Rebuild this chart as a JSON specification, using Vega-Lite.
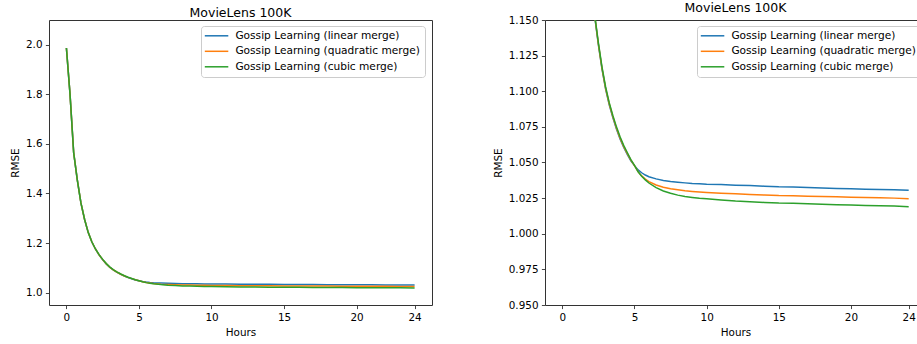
{
  "$schema": "https://vega.github.io/schema/vega-lite/v6.json",
  "padding": {"left": 9, "top": 1, "right": 0, "bottom": 0},
  "config": {
    "font": "DejaVu Sans",
    "view": {"stroke": "#333333", "strokeWidth": 1},
    "axis": {
      "domain": false, "grid": false, "tickColor": "#333333", "tickSize": 3.6, "tickWidth": 0.9,
      "labelFontSize": 10.4, "labelColor": "#000000", "labelPadding": 3.4, "labelFlush": false,
      "titleFontSize": 10.4, "titleFontWeight": "normal", "titleColor": "#000000", "titlePadding": 5
    },
    "title": {"fontSize": 12.5, "fontWeight": "normal", "color": "#000000", "offset": 1, "frame": "group", "anchor": "middle"},
    "legend": {
      "orient": "none", "legendX": 152, "legendY": 6, "title": null, "labelLimit": 300,
      "labelFontSize": 10.6, "labelColor": "#000000", "symbolType": "M-3,0H8.75", "symbolSize": 16,
      "symbolStrokeWidth": 1.5, "labelOffset": 19.3, "padding": 4.5, "rowPadding": 4.5,
      "fillColor": "rgba(255,255,255,0.8)", "strokeColor": "#cccccc", "cornerRadius": 3
    }
  },
  "data": {"values": [
    {"h": 0, "linear": 1.987, "quadratic": 1.987, "cubic": 1.987},
    {"h": 0.25, "linear": 1.80, "quadratic": 1.80, "cubic": 1.80},
    {"h": 0.5, "linear": 1.565, "quadratic": 1.565, "cubic": 1.565},
    {"h": 0.75, "linear": 1.455, "quadratic": 1.455, "cubic": 1.455},
    {"h": 1, "linear": 1.362, "quadratic": 1.362, "cubic": 1.362},
    {"h": 1.25, "linear": 1.296, "quadratic": 1.296, "cubic": 1.296},
    {"h": 1.5, "linear": 1.243, "quadratic": 1.243, "cubic": 1.243},
    {"h": 1.75, "linear": 1.205, "quadratic": 1.205, "cubic": 1.205},
    {"h": 2, "linear": 1.176, "quadratic": 1.176, "cubic": 1.176},
    {"h": 2.25, "linear": 1.152, "quadratic": 1.1525, "cubic": 1.153},
    {"h": 2.5, "linear": 1.1325, "quadratic": 1.133, "cubic": 1.134},
    {"h": 2.75, "linear": 1.1155, "quadratic": 1.116, "cubic": 1.117},
    {"h": 3, "linear": 1.1015, "quadratic": 1.102, "cubic": 1.103},
    {"h": 3.25, "linear": 1.0905, "quadratic": 1.0912, "cubic": 1.092},
    {"h": 3.5, "linear": 1.0815, "quadratic": 1.0822, "cubic": 1.083},
    {"h": 3.75, "linear": 1.0735, "quadratic": 1.0742, "cubic": 1.075},
    {"h": 4, "linear": 1.0665, "quadratic": 1.0672, "cubic": 1.068},
    {"h": 4.25, "linear": 1.0607, "quadratic": 1.0613, "cubic": 1.062},
    {"h": 4.5, "linear": 1.0557, "quadratic": 1.0563, "cubic": 1.057},
    {"h": 4.75, "linear": 1.0512, "quadratic": 1.0516, "cubic": 1.052},
    {"h": 5, "linear": 1.0478, "quadratic": 1.0478, "cubic": 1.048},
    {"h": 5.25, "linear": 1.0448, "quadratic": 1.0436, "cubic": 1.0435},
    {"h": 5.5, "linear": 1.0428, "quadratic": 1.0406, "cubic": 1.0403},
    {"h": 5.75, "linear": 1.0412, "quadratic": 1.0384, "cubic": 1.0378},
    {"h": 6, "linear": 1.0400, "quadratic": 1.0366, "cubic": 1.0356},
    {"h": 6.5, "linear": 1.0385, "quadratic": 1.0342, "cubic": 1.0324},
    {"h": 7, "linear": 1.0373, "quadratic": 1.0326, "cubic": 1.0300},
    {"h": 7.5, "linear": 1.0366, "quadratic": 1.0316, "cubic": 1.0284},
    {"h": 8, "linear": 1.0361, "quadratic": 1.0309, "cubic": 1.0271},
    {"h": 8.5, "linear": 1.0357, "quadratic": 1.0302, "cubic": 1.0262},
    {"h": 9, "linear": 1.0353, "quadratic": 1.0297, "cubic": 1.0255},
    {"h": 9.5, "linear": 1.0351, "quadratic": 1.0293, "cubic": 1.0249},
    {"h": 10, "linear": 1.0348, "quadratic": 1.0290, "cubic": 1.0245},
    {"h": 11, "linear": 1.0345, "quadratic": 1.0285, "cubic": 1.0236},
    {"h": 12, "linear": 1.0341, "quadratic": 1.0280, "cubic": 1.0229},
    {"h": 13, "linear": 1.0338, "quadratic": 1.0276, "cubic": 1.0225},
    {"h": 14, "linear": 1.0334, "quadratic": 1.0272, "cubic": 1.0220},
    {"h": 15, "linear": 1.0329, "quadratic": 1.0268, "cubic": 1.0215},
    {"h": 16, "linear": 1.0328, "quadratic": 1.0267, "cubic": 1.0214},
    {"h": 17, "linear": 1.0324, "quadratic": 1.0264, "cubic": 1.0211},
    {"h": 18, "linear": 1.0321, "quadratic": 1.0262, "cubic": 1.0207},
    {"h": 19, "linear": 1.0318, "quadratic": 1.0260, "cubic": 1.0204},
    {"h": 20, "linear": 1.0315, "quadratic": 1.0256, "cubic": 1.0201},
    {"h": 21, "linear": 1.0313, "quadratic": 1.0254, "cubic": 1.0199},
    {"h": 22, "linear": 1.0311, "quadratic": 1.0252, "cubic": 1.0196},
    {"h": 23, "linear": 1.0309, "quadratic": 1.0250, "cubic": 1.0194},
    {"h": 24, "linear": 1.0306, "quadratic": 1.0245, "cubic": 1.0190}
  ]},
  "spacing": 59,
  "resolve": {"legend": {"color": "independent"}},
  "hconcat": [
    {
      "width": 383, "height": 285,
      "title": {"text": "MovieLens 100K"},
      "transform": [{"fold": ["linear", "quadratic", "cubic"], "as": ["series", "rmse"]}],
      "mark": {"type": "line", "strokeWidth": 1.5, "clip": true},
      "encoding": {
        "x": {"field": "h", "type": "quantitative", "scale": {"domain": [-1.2, 25.2], "nice": false, "zero": false},
              "axis": {"values": [0, 5, 10, 15, 20, 24], "title": "Hours"}},
        "y": {"field": "rmse", "type": "quantitative", "scale": {"domain": [0.95, 2.1], "nice": false, "zero": false},
              "axis": {"values": [1.0, 1.2, 1.4, 1.6, 1.8, 2.0], "format": ".1f", "title": "RMSE"}},
        "color": {"field": "series", "type": "nominal",
                  "scale": {"domain": ["linear", "quadratic", "cubic"], "range": ["#1f77b4", "#ff7f0e", "#2ca02c"]},
                  "legend": {"labelExpr": "'Gossip Learning (' + datum.label + ' merge)'"}}
      }
    },
    {
      "width": 381, "height": 285,
      "title": {"text": "MovieLens 100K"},
      "transform": [{"fold": ["linear", "quadratic", "cubic"], "as": ["series", "rmse"]}],
      "mark": {"type": "line", "strokeWidth": 1.5, "clip": true},
      "encoding": {
        "x": {"field": "h", "type": "quantitative", "scale": {"domain": [-1.2, 25.2], "nice": false, "zero": false},
              "axis": {"values": [0, 5, 10, 15, 20, 24], "title": "Hours"}},
        "y": {"field": "rmse", "type": "quantitative", "scale": {"domain": [0.95, 1.15], "nice": false, "zero": false},
              "axis": {"values": [0.95, 0.975, 1.0, 1.025, 1.05, 1.075, 1.1, 1.125, 1.15], "format": ".3f", "title": "RMSE"}},
        "color": {"field": "series", "type": "nominal",
                  "scale": {"domain": ["linear", "quadratic", "cubic"], "range": ["#1f77b4", "#ff7f0e", "#2ca02c"]},
                  "legend": {"labelExpr": "'Gossip Learning (' + datum.label + ' merge)'"}}
      }
    }
  ]
}
